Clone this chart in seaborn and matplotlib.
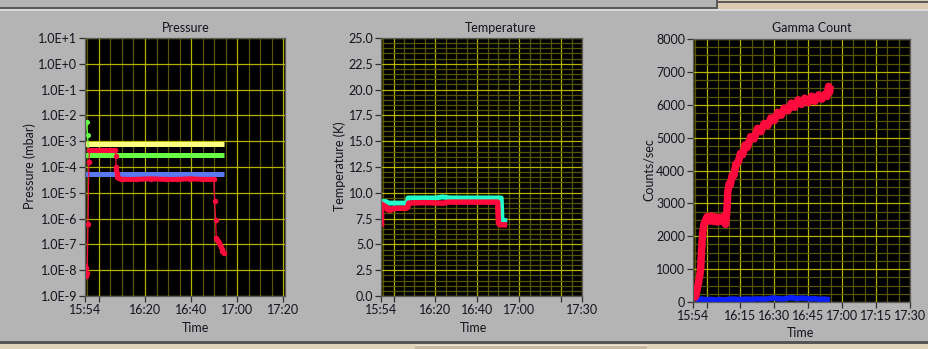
import matplotlib
matplotlib.use("Agg")
import matplotlib.pyplot as plt
import matplotlib.ticker as mticker
from matplotlib.patches import Rectangle
import seaborn as sns
import numpy as np

# ---------------- data (time in minutes after 15:54) ----------------
p_tick_pos = [0, 6, 26, 46, 66, 86]
p_tick_lab = ["15:54", "", "16:20", "16:40", "17:00", "17:20"]
t_tick_pos = [0, 6, 26, 46, 66, 86, 96]
t_tick_lab = ["15:54", "", "16:20", "16:40", "17:00", "", "17:30"]
g_tick_pos = [0, 6, 21, 36, 51, 66, 81, 96]
g_tick_lab = ["15:54", "", "16:15", "16:30", "16:45", "17:00", "17:15", "17:30"]
minor_minutes = list(range(1, 97, 5))

p_ytick_val = [1e-9, 1e-8, 1e-7, 1e-6, 1e-5, 1e-4, 1e-3, 1e-2, 1e-1, 1e0, 1e1]
p_ytick_lab = ["1.0E-9", "1.0E-8", "1.0E-7", "1.0E-6", "1.0E-5", "1.0E-4",
               "1.0E-3", "1.0E-2", "1.0E-1", "1.0E+0", "1.0E+1"]
t_ytick_val = [0, 2.5, 5, 7.5, 10, 12.5, 15, 17.5, 20, 22.5, 25]
t_ytick_lab = ["0.0", "2.5", "5.0", "7.5", "10.0", "12.5", "15.0", "17.5", "20.0", "22.5", "25.0"]
g_ytick_val = [0, 1000, 2000, 3000, 4000, 5000, 6000, 7000, 8000]
g_ytick_lab = ["0", "1000", "2000", "3000", "4000", "5000", "6000", "7000", "8000"]

# Pressure
yellow_t = [0.0, 60.3]
yellow_v = [8.0e-4, 8.0e-4]
blue_t = [0.0, 60.3]
blue_v = [5.4e-5, 5.4e-5]
green_plateau_t = [0.0, 60.3]
green_plateau_v = [3.0e-4, 3.0e-4]
green_start_t = [0.0, 0.4, 0.8, 1.1, 1.6]
green_start_v = [3.0e-4, 5.6e-3, 5.6e-3, 1.7e-3, 3.0e-4]
red_p_t = [0.0, 0.3, 0.6, 0.9, 1.3, 1.7, 1.9, 5.0, 9.0, 13.1,
           13.3, 13.5, 13.6, 13.7, 13.8, 14.0, 14.6, 15.5,
           16.5, 22.0, 28.4, 35.0, 40.0, 45.7, 51.0, 55.8,
           56.2, 56.6, 56.9, 57.2, 57.6, 58.0, 58.4, 58.8, 59.2, 59.6, 60.0, 60.2]
red_p_v = [1.5e-8, 6e-9, 1.2e-8, 8e-9, 6.2e-7, 1.5e-4, 4.4e-4, 4.4e-4, 4.4e-4, 4.4e-4,
           2.7e-4, 1.0e-4, 7.5e-5, 6.0e-5, 5.0e-5, 4.2e-5, 3.6e-5, 3.4e-5,
           3.3e-5, 3.3e-5, 3.5e-5, 3.3e-5, 3.3e-5, 3.5e-5, 3.3e-5, 3.3e-5,
           5e-6, 9e-7, 1.8e-7, 1.5e-7, 1.3e-7, 1.1e-7, 9.5e-8, 8e-8, 6.8e-8, 5.8e-8, 5.2e-8, 4.8e-8]
red_p_plateaus = [(6, 10), (18, 26)]   # index ranges of the dense plateaus

# Temperature
cyan_t = [0.0, 2.5, 2.8, 12.5, 12.9, 20.0, 26.0, 29.4, 33.0, 40.0, 50.0, 57.4, 57.8, 58.5, 60.3]
cyan_v = [9.15, 9.15, 9.0, 9.0, 9.5, 9.5, 9.5, 9.6, 9.5, 9.5, 9.5, 9.5, 7.4, 7.3, 7.3]
red_T_t = [0.2, 0.3, 1.5, 2.7, 3.2, 4.0, 4.5, 5.5, 8.0, 12.0, 12.8, 13.2, 20.0, 30.0,
           32.0, 40.0, 50.0, 55.7, 56.1, 56.6, 60.2]
red_T_v = [6.7, 8.9, 8.75, 8.6, 8.35, 8.45, 8.3, 8.45, 8.5, 8.5, 8.6, 9.0, 9.05, 9.0,
           9.1, 9.1, 9.1, 9.1, 7.1, 6.9, 6.9]

# Gamma count
red_g_t = [0.0, 0.5, 1.0, 1.6, 2.3, 3.0, 3.4, 3.8, 4.3, 4.8, 5.5, 6.3, 7.2, 8.1, 9.0,
           9.9, 10.8, 11.7, 12.6, 13.4, 14.0, 14.4, 14.8, 15.1, 15.4, 16.0, 16.5, 17.3,
           18.1, 19.0, 20.0, 21.0, 22.0, 23.0, 24.0, 25.5, 27.0, 28.5, 30.0, 31.5,
           33.0, 34.5, 36.0, 37.5, 39.0, 40.4, 42.0, 43.5, 44.9, 46.5, 48.0, 49.4,
           51.0, 52.5, 53.9, 55.5, 57.0, 58.4, 59.3, 60.0, 60.4, 60.8]
red_g_v = [100, 180, 150, 300, 550, 800, 1030, 1600, 2100, 2350, 2480, 2600, 2460, 2620,
           2450, 2590, 2430, 2580, 2460, 2600, 2400, 2360, 2650, 2900, 3350, 3600,
           3560, 3850, 3850, 4200, 4250, 4520, 4480, 4780, 4700, 5030, 4960, 5280,
           5180, 5430, 5360, 5600, 5520, 5770, 5680, 5900, 5820, 6050, 5920, 6150,
           6010, 6200, 6060, 6260, 6100, 6300, 6170, 6330, 6250, 6560, 6380, 6580]
blue_g_t = [1.0, 2.0, 4.0, 6.0, 8.0, 10.0, 12.0, 14.0, 16.0, 18.0, 20.0, 22.0, 24.0,
            26.0, 28.0, 30.0, 32.0, 34.0, 36.0, 38.0, 40.0, 42.0, 44.0, 46.0, 48.0,
            50.0, 52.0, 54.0, 56.0, 58.0, 60.6]
blue_g_v = [40, 80, 90, 70, 85, 60, 80, 60, 85, 90, 80, 85, 90, 80, 95, 90, 85, 110,
            120, 100, 90, 120, 130, 100, 120, 110, 90, 100, 80, 90, 70]

# ---------------- figure ----------------
sns.set_theme(style="dark")
plt.rcParams['font.family'] = ['Lato', 'DejaVu Sans']

W, H = 929, 349
BG = '#b4b4b4'
fig = plt.figure(figsize=(W / 100, H / 100), dpi=100)
fig.patch.set_facecolor(BG)
TXT = '#14141e'


def px(v):
    return v * 0.72


def ax_at(x0, y0, x1, y1):
    return fig.add_axes([x0 / W, 1 - y1 / H, (x1 - x0) / W, (y1 - y0) / H])


def style(ax):
    ax.set_facecolor('black')
    ax.grid(which='major', color='#b4b400', lw=0.9)
    ax.grid(which='minor', color='#565600', lw=0.9)
    ax.set_axisbelow(True)
    for s in ax.spines.values():
        s.set_color('#5c5c5c')
        s.set_linewidth(0.9)
        s.set_visible(True)
    ax.tick_params(which='major', direction='out', length=4, width=0.9,
                   color='#303030', labelsize=9, labelcolor=TXT, pad=1.5,
                   left=True, bottom=True)
    ax.tick_params(which='minor', length=0)
    ax.set_xlabel('')
    ax.set_ylabel('')


def rect(x0, y0, x1, y1, c):
    fig.patches.append(Rectangle((x0 / W, 1 - y1 / H), (x1 - x0) / W, (y1 - y0) / H,
                                 transform=fig.transFigure, color=c, lw=0, zorder=0))


def ftext(x, y, s, rot=0):
    fig.text(x / W, 1 - y / H, s, ha='center', va='center', rotation=rot,
             fontsize=9, color=TXT)


# frame decorations
rect(0, 6.5, 718, 8.5, '#5a5a5a')
rect(718, 0, 929, 8.5, '#dccbb0')
rect(718, 0.8, 929, 2.5, '#5a5a5a')
rect(716.5, 0, 718.5, 8.5, '#5a5a5a')
rect(0, 8.5, 929, 9.3, '#7a7a7a')
rect(0, 9.3, 929, 10.8, '#dadada')
rect(0, 341, 929, 343.5, '#555555')
rect(0, 343.5, 929, 349, '#e0d3bb')
rect(415, 344.5, 647, 349, '#c8b99e')
rect(415, 344.5, 647, 345.5, '#efe6d6')

# ---- Pressure ----
axP = ax_at(85, 38, 285, 296)
axP.set_yscale('log')
sns.lineplot(x=yellow_t, y=yellow_v, ax=axP, color='#ffff80', linewidth=px(5),
             estimator=None, sort=False, solid_capstyle='butt')
sns.lineplot(x=green_plateau_t, y=green_plateau_v, ax=axP, color='#66ff44',
             linewidth=px(5), estimator=None, sort=False, solid_capstyle='butt')
sns.lineplot(x=green_start_t, y=green_start_v, ax=axP, color='#66ff44', linewidth=px(1.2),
             marker='o', markersize=px(5), markeredgewidth=0, markevery=[1, 2, 3],
             estimator=None, sort=False)
sns.lineplot(x=blue_t, y=blue_v, ax=axP, color='#5a78f0', linewidth=px(5),
             estimator=None, sort=False, solid_capstyle='butt')
sns.lineplot(x=red_p_t, y=red_p_v, ax=axP, color='#ff0a3c', linewidth=px(1.2),
             marker='o', markersize=px(5.5), markeredgewidth=0, estimator=None, sort=False)
for a, b in red_p_plateaus:
    sns.lineplot(x=red_p_t[a:b], y=red_p_v[a:b], ax=axP, color='#ff0a3c',
                 linewidth=px(5), estimator=None, sort=False, solid_capstyle='round')
axP.set_xlim(0, 86.7)
axP.set_ylim(1e-9, 10)
axP.yaxis.set_major_locator(mticker.FixedLocator(p_ytick_val))
axP.yaxis.set_major_formatter(mticker.FixedFormatter(p_ytick_lab))
axP.yaxis.set_minor_locator(mticker.LogLocator(base=10, subs=np.arange(2, 10)))
axP.yaxis.set_minor_formatter(mticker.NullFormatter())
axP.set_xticks(p_tick_pos, p_tick_lab)
axP.xaxis.set_minor_locator(mticker.FixedLocator(minor_minutes))
style(axP)

# ---- Temperature ----
axT = ax_at(381, 38, 582, 296)
sns.lineplot(x=cyan_t, y=cyan_v, ax=axT, color='#22ffcc', linewidth=px(5),
             estimator=None, sort=False, solid_capstyle='butt')
sns.lineplot(x=red_T_t, y=red_T_v, ax=axT, color='#ff0a3c', linewidth=px(5.5),
             estimator=None, sort=False, solid_capstyle='butt')
axT.set_xlim(0, 96)
axT.set_ylim(0, 25)
axT.set_yticks(t_ytick_val, t_ytick_lab)
axT.yaxis.set_minor_locator(mticker.MultipleLocator(0.5))
axT.set_xticks(t_tick_pos, t_tick_lab)
axT.xaxis.set_minor_locator(mticker.FixedLocator(minor_minutes))
style(axT)

# ---- Gamma ----
axG = ax_at(693, 39, 910, 302)
sns.lineplot(x=blue_g_t, y=blue_g_v, ax=axG, color='#0a1eff', linewidth=px(5.5),
             estimator=None, sort=False, solid_capstyle='butt')
sns.lineplot(x=red_g_t, y=red_g_v, ax=axG, color='#ff0a3c', linewidth=px(7.5),
             estimator=None, sort=False, solid_capstyle='butt')
axG.set_xlim(0, 96)
axG.set_ylim(0, 8000)
axG.set_yticks(g_ytick_val, g_ytick_lab)
axG.yaxis.set_minor_locator(mticker.MultipleLocator(250))
axG.set_xticks(g_tick_pos, g_tick_lab)
axG.xaxis.set_minor_locator(mticker.FixedLocator(minor_minutes))
style(axG)

# titles and axis labels
ftext(186, 27.5, "Pressure")
ftext(501, 27.5, "Temperature")
ftext(812, 27.5, "Gamma Count")
ftext(196, 328, "Time")
ftext(474, 328, "Time")
ftext(801, 333, "Time")
ftext(30, 166, "Pressure (mbar)", rot=90)
ftext(340, 166, "Temperature (K)", rot=90)
ftext(649, 170, "Counts/sec", rot=90)

fig.savefig("out.png", dpi=100, facecolor=BG)
